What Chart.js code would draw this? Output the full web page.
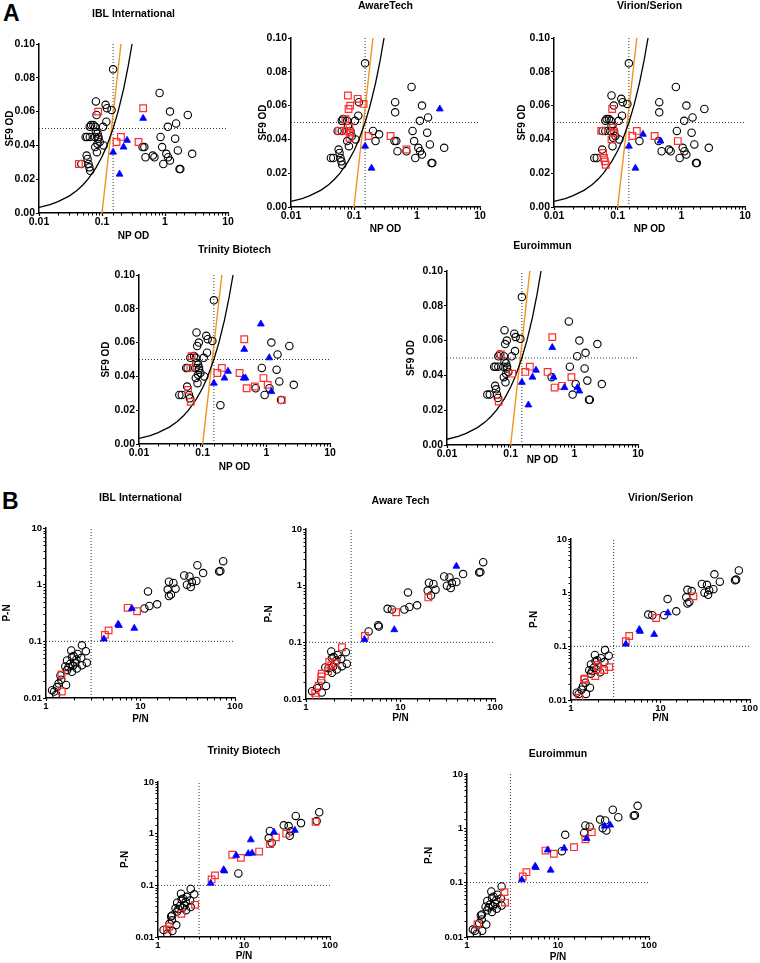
<!DOCTYPE html>
<html>
<head>
<meta charset="utf-8">
<script src="https://cdn.jsdelivr.net/npm/chart.js@4/dist/chart.umd.min.js"></script>
<style>
  html, body { margin: 0; padding: 0; background: #fff; }
  body { width: 760px; height: 963px; position: relative; overflow: hidden; }
  canvas { position: absolute; }
  .letter { position: absolute; font: bold 23px 'Liberation Sans', Arial, sans-serif; line-height: 1; color: #000; }
</style>
</head>
<body>
<div class="letter" style="left:3px;top:2px">A</div>
<div class="letter" style="left:2px;top:490px">B</div>
<script>
const kitsA = ['IBL International', 'AwareTech', 'Virion/Serion', 'Trinity Biotech', 'Euroimmun'];
const kitsB = ['IBL International', 'Aware Tech', 'Virion/Serion', 'Trinity Biotech', 'Euroimmun'];

// every serum, [NP OD, SF9 OD]
const odSamples = [
  [0.15, 0.085], [0.08, 0.066], [0.114, 0.064], [0.12, 0.062], [0.142, 0.061], [0.087, 0.060],
  [0.082, 0.058], [0.117, 0.054], [0.073, 0.052], [0.067, 0.052], [0.064, 0.051], [0.078, 0.051],
  [0.104, 0.051], [0.055, 0.045], [0.058, 0.045], [0.064, 0.045], [0.077, 0.045], [0.085, 0.047],
  [0.088, 0.045], [0.087, 0.044], [0.08, 0.048], [0.085, 0.041], [0.092, 0.042], [0.106, 0.040],
  [0.078, 0.039], [0.083, 0.036], [0.057, 0.034], [0.059, 0.032], [0.061, 0.029], [0.063, 0.027],
  [0.065, 0.025], [0.043, 0.029], [0.047, 0.029],
  [0.2, 0.045], [0.17, 0.042], [0.25, 0.043], [0.22, 0.039], [0.15, 0.036], [0.19, 0.023],
  [0.45, 0.062], [0.45, 0.056], [0.38, 0.042],
  [0.82, 0.071], [1.2, 0.060], [2.3, 0.058], [1.5, 0.053], [1.11, 0.051], [0.85, 0.045],
  [1.45, 0.044], [0.9, 0.039], [0.44, 0.039], [0.47, 0.039], [1.05, 0.035], [1.6, 0.037],
  [2.7, 0.035], [0.64, 0.034], [0.68, 0.033], [0.49, 0.033], [1.12, 0.033], [1.2, 0.031],
  [0.94, 0.029], [1.7, 0.026], [1.75, 0.026]
];

// same sera, [P/N, P-N]
const ratioSamples = [
  [75, 2.6], [40, 2.2], [29, 1.45], [33, 1.4], [46, 1.6], [68, 1.7], [70, 1.75], [20, 1.13],
  [22.3, 1.07], [23.5, 0.85], [19.4, 0.82], [21, 0.67], [20, 0.63], [31, 1.0], [34, 0.91],
  [35, 1.11], [39, 1.16], [12, 0.76], [11, 0.38], [12.4, 0.42], [15, 0.45],
  [7.3, 0.39], [9.2, 0.34], [4.2, 0.13], [4.6, 0.156], [8.1, 0.38], [5.8, 0.2], [5.9, 0.19],
  [8.6, 0.17], [4.1, 0.11],
  [2.4, 0.085], [1.85, 0.069], [2.64, 0.067], [2.16, 0.06], [1.96, 0.055], [2.36, 0.051],
  [2.1, 0.048], [1.88, 0.053], [1.67, 0.046], [2.04, 0.041], [2.7, 0.042], [1.8, 0.04],
  [2.4, 0.038], [1.93, 0.037], [1.73, 0.035], [2.12, 0.033], [1.88, 0.029], [1.67, 0.031],
  [1.6, 0.036], [1.42, 0.025], [1.63, 0.017], [1.36, 0.018], [1.31, 0.0156], [1.22, 0.013],
  [1.28, 0.0115], [1.16, 0.0137], [1.45, 0.021], [1.46, 0.026], [1.47, 0.013]
];

// sera each kit called differently (red squares / blue triangles), kit order as above
const odRed = [
  [[0.087, 0.060], [0.043, 0.029], [0.2, 0.045], [0.17, 0.042], [0.45, 0.062], [0.38, 0.042]],
  [[0.08, 0.066], [0.114, 0.064], [0.087, 0.060], [0.082, 0.058], [0.142, 0.061], [0.073, 0.052],
   [0.058, 0.045], [0.077, 0.045], [0.085, 0.047], [0.087, 0.044], [0.085, 0.041], [0.17, 0.042],
   [0.38, 0.042], [0.68, 0.034]],
  [[0.082, 0.058], [0.055, 0.045], [0.085, 0.047], [0.087, 0.044], [0.08, 0.040], [0.059, 0.032],
   [0.061, 0.029], [0.063, 0.027], [0.065, 0.025], [0.17, 0.042], [0.2, 0.045], [0.38, 0.042],
   [0.88, 0.039]],
  [[0.45, 0.062], [0.067, 0.052], [0.064, 0.045], [0.059, 0.032], [0.065, 0.025], [0.2, 0.045],
   [0.17, 0.042], [0.38, 0.042], [0.49, 0.033], [0.66, 0.034], [0.9, 0.039], [1.05, 0.035],
   [1.75, 0.026]],
  [[0.07, 0.052], [0.106, 0.041], [0.065, 0.025], [0.17, 0.042], [0.2, 0.045], [0.38, 0.042],
   [0.45, 0.062], [0.49, 0.033], [0.64, 0.034], [0.9, 0.039]]
];
const odBlue = [
  [[0.25, 0.043], [0.22, 0.039], [0.15, 0.036], [0.19, 0.023], [0.45, 0.056]],
  [[0.15, 0.036], [0.19, 0.023], [2.3, 0.058]],
  [[0.15, 0.036], [0.19, 0.023], [0.25, 0.043], [0.47, 0.039]],
  [[0.82, 0.071], [0.45, 0.056], [1.11, 0.051], [0.15, 0.036], [0.25, 0.043], [0.22, 0.039],
   [0.44, 0.039], [0.47, 0.039], [1.2, 0.031]],
  [[0.15, 0.036], [0.19, 0.023], [0.22, 0.039], [0.25, 0.043], [0.45, 0.056], [0.47, 0.039],
   [0.7, 0.033], [1.12, 0.033], [1.2, 0.031]]
];
const ratioRed = [
  [[7.3, 0.39], [9.2, 0.34], [4.2, 0.13], [4.6, 0.156], [1.46, 0.026], [1.47, 0.013]],
  [[1.25, 0.0128], [1.27, 0.011], [1.36, 0.0172], [1.45, 0.025], [1.47, 0.028], [1.76, 0.045],
   [1.71, 0.031], [1.85, 0.039], [2.04, 0.043], [2.4, 0.082], [4.2, 0.13], [9.0, 0.34], [19.7, 0.62]],
  [[1.24, 0.011], [1.4, 0.024], [1.42, 0.025], [1.87, 0.028], [2.0, 0.041], [1.97, 0.045],
   [2.35, 0.036], [2.68, 0.041], [4.1, 0.125], [4.47, 0.156], [8.95, 0.337], [23.3, 0.855]],
  [[1.27, 0.014], [1.35, 0.016], [1.87, 0.028], [2.7, 0.042], [4.2, 0.13], [4.6, 0.156], [7.3, 0.39],
   [9.2, 0.34], [15, 0.45], [20, 0.63], [23.5, 0.85], [31, 1.0], [68, 1.7]],
  [[1.3, 0.017], [2.58, 0.067], [2.62, 0.043], [4.1, 0.13], [4.5, 0.156], [7.3, 0.39], [9, 0.34],
   [15, 0.45], [20, 0.63], [23.5, 0.85]]
];
const ratioBlue = [
  [[8.1, 0.38], [5.8, 0.2], [5.9, 0.19], [8.6, 0.17], [4.1, 0.11]],
  [[4.16, 0.112], [8.6, 0.167], [39, 2.2]],
  [[4.1, 0.11], [5.8, 0.205], [5.9, 0.19], [8.5, 0.167], [12.1, 0.42]],
  [[4.1, 0.11], [5.8, 0.2], [5.9, 0.19], [8.1, 0.38], [12, 0.76], [11.2, 0.41], [12.4, 0.42],
   [22.3, 1.07], [39, 1.16]],
  [[4.0, 0.113], [5.6, 0.2], [5.7, 0.19], [7.7, 0.4], [8.3, 0.17], [11.7, 0.43], [20.6, 0.65],
   [32.5, 1.1], [37.5, 1.15]]
];

// cut-offs (dotted lines)
const npCut = 0.15, sf9Cut = 0.05;
const pnCut = 3, diffCut = 0.1;
// P/N = 3 curve and P-N = 0.1 line as drawn on the A panels
const ratioCurveNP = [0.01, 0.015, 0.02, 0.03, 0.04, 0.05, 0.06, 0.08, 0.1, 0.12, 0.15, 0.18, 0.22, 0.26, 0.3];
const ratioCurveSF9 = [0.0033, 0.005, 0.0067, 0.01, 0.0133, 0.0167, 0.02, 0.0267, 0.0333, 0.04, 0.05, 0.06, 0.0733, 0.0867, 0.1];
const diffLineNP = [0.1, 0.2];
const diffLineSF9 = [0, 0.1];

// plot boxes on the page
const boxesA = [
  {L: 39, T: 44, R: 228, B: 213, gap: 30, yGap: 29, xGap: 23},
  {L: 291, T: 38, R: 480, B: 207, gap: 32, yGap: 28, xGap: 22},
  {L: 554, T: 38, R: 745, B: 207, gap: 32, yGap: 32, xGap: 22},
  {L: 139, T: 275, R: 330, B: 444, gap: 25, yGap: 33, xGap: 23},
  {L: 447, T: 271, R: 638, B: 445, gap: 25, yGap: 36, xGap: 15}
];
const boxesB = [
  {L: 46, T: 528, R: 235, B: 698, gap: 30, yGap: 39, xGap: 21},
  {L: 306, T: 529, R: 495, B: 699, gap: 28, yGap: 37, xGap: 19},
  {L: 571, T: 539, R: 750, B: 700, gap: 41, yGap: 37, xGap: 18},
  {L: 158, T: 782, R: 330, B: 937, gap: 31, yGap: 33, xGap: 19},
  {L: 467, T: 774, R: 649, B: 937, gap: 20, yGap: 38, xGap: 20}
];

const FONT = "'Liberation Sans', Arial, Helvetica, sans-serif";
const RED = '#ff2e2e', BLUE = '#0000ff', ORANGE = '#f7921e';
const Y_W = 45, X_H = 30, PAD_R = 16;

const toXY = list => list.map(p => ({x: p[0], y: p[1]}));
const zipXY = (xs, ys) => xs.map((x, i) => ({x: x, y: ys[i]}));

function powLabel(v) {
  const e = Math.log10(v);
  const r = Math.round(e);
  if (Math.abs(e - r) > 1e-6) return '';
  return r < 0 ? Math.pow(10, r).toFixed(-r) : String(Math.pow(10, r));
}

// circles = sera not drawn as square/triangle in this kit
function keepUnmarked(base, marked, sc) {
  const left = base.slice();
  const nx = v => sc.xLog ? Math.log10(v) / sc.xr : v / sc.xr;
  const ny = v => sc.yLog ? Math.log10(v) / sc.yr : v / sc.yr;
  marked.forEach(m => {
    let best = -1, bestD = 0.03;
    left.forEach((p, i) => {
      const d = Math.hypot(nx(p[0]) - nx(m[0]), ny(p[1]) - ny(m[1]));
      if (d < bestD) { bestD = d; best = i; }
    });
    if (best >= 0) left.splice(best, 1);
  });
  return left;
}

const minorTicks = {
  id: 'minorTicks',
  afterDraw(chart) {
    const ctx = chart.ctx, area = chart.chartArea;
    ctx.save();
    ctx.strokeStyle = '#000';
    ctx.lineWidth = 1;
    Object.values(chart.scales).forEach(s => {
      if (s.type !== 'logarithmic') return;
      s.ticks.forEach(t => {
        if (powLabel(t.value) !== '') return;
        const p = Math.round(s.getPixelForValue(t.value)) + 0.5;
        ctx.beginPath();
        if (s.isHorizontal()) { ctx.moveTo(p, area.bottom); ctx.lineTo(p, area.bottom + 2.5); }
        else { ctx.moveTo(area.left - 2.5, p); ctx.lineTo(area.left, p); }
        ctx.stroke();
      });
    });
    ctx.restore();
  }
};

function axis(cfg, box, horizontal) {
  const log = cfg.type === 'logarithmic';
  const a = {
    type: cfg.type, min: cfg.min, max: cfg.max,
    border: {display: true, color: '#000', width: 1.5},
    grid: {
      display: true, drawOnChartArea: false, drawTicks: true, tickLength: 3, tickWidth: 1.2,
      tickColor: c => (!log || (c.tick && powLabel(c.tick.value) !== '')) ? '#000' : 'rgba(0,0,0,0)'
    },
    ticks: {
      autoSkip: false, maxRotation: 0, minRotation: 0, color: '#000',
      padding: horizontal ? cfg.labelPad : 1,
      font: {family: FONT, size: cfg.tickSize, weight: 'bold', lineHeight: 1},
      callback: log ? (v => powLabel(v)) : (v => v.toFixed(2))
    },
    title: {
      display: true, text: cfg.title, color: '#000',
      font: {family: FONT, size: 10, weight: 'bold', lineHeight: 1.2},
      padding: horizontal ? {top: 0, bottom: X_H - box.xGap - 6} : {top: Y_W - box.yGap - 6, bottom: 0}
    }
  };
  if (!log) a.ticks.stepSize = cfg.step;
  a.afterFit = horizontal
    ? (s => { s.height = X_H; s.paddingLeft = 0; s.paddingRight = 0; })
    : (s => { s.width = Y_W; s.paddingTop = 0; s.paddingBottom = 0; });
  return a;
}

function drawPanel(box, p) {
  const lh = p.titleSize * 1.2;
  const titleH = Math.round(2 + lh / 2 + box.gap);
  const padTop = titleH - box.gap - lh / 2;
  const w = box.R - box.L + Y_W + PAD_R;
  const h = box.B - box.T + titleH + X_H;
  const canvas = document.createElement('canvas');
  canvas.width = w; canvas.height = h;
  canvas.style.left = (box.L - Y_W) + 'px';
  canvas.style.top = (box.T - titleH) + 'px';
  canvas.style.width = w + 'px';
  canvas.style.height = h + 'px';
  document.body.appendChild(canvas);

  const circles = keepUnmarked(p.base, p.red.concat(p.blue), p.norm);
  const lines = p.lines.map(l => ({
    data: l.data, showLine: true, pointRadius: 0, borderColor: l.color, borderWidth: l.width,
    borderDash: l.dash || [], order: l.order
  }));

  new Chart(canvas, {
    type: 'scatter',
    data: {
      datasets: [
        {data: toXY(p.blue), pointStyle: 'triangle', pointRadius: 4, backgroundColor: BLUE,
         borderColor: BLUE, borderWidth: 0.8, order: 0},
        {data: toXY(p.red), pointStyle: 'rect', pointRadius: 4.7, backgroundColor: 'rgba(0,0,0,0)',
         borderColor: RED, borderWidth: 1.2, order: 1},
        {data: toXY(circles), pointStyle: 'circle', pointRadius: 3.7, backgroundColor: 'rgba(0,0,0,0)',
         borderColor: '#000', borderWidth: 1.1, order: 2}
      ].concat(lines)
    },
    options: {
      responsive: false, animation: false, devicePixelRatio: 1, events: [],
      layout: {padding: {left: 0, right: PAD_R, top: 0, bottom: 0}},
      plugins: {
        legend: {display: false}, tooltip: {enabled: false},
        title: {
          display: true, text: p.title, position: 'top', fullSize: false, color: '#000',
          font: {family: FONT, size: p.titleSize, weight: 'bold', lineHeight: 1.2},
          padding: {top: padTop, bottom: box.gap - lh / 2}
        }
      },
      scales: {
        x: axis(p.x, box, true),
        y: axis(p.y, box, false)
      }
    },
    plugins: [minorTicks]
  });
}

const dotted = [1, 2];

kitsA.forEach((name, k) => {
  drawPanel(boxesA[k], {
    title: name, titleSize: 10.5,
    base: odSamples, red: odRed[k], blue: odBlue[k],
    norm: {xLog: true, xr: 3, yLog: false, yr: 0.1},
    x: {type: 'logarithmic', min: 0.01, max: 10, title: 'NP OD', tickSize: 10.5, labelPad: 1},
    y: {type: 'linear', min: 0, max: 0.1, step: 0.02, title: 'SF9 OD', tickSize: 10.5},
    lines: [
      {data: zipXY(ratioCurveNP, ratioCurveSF9), color: '#000', width: 1.3, order: 3},
      {data: zipXY(diffLineNP, diffLineSF9), color: ORANGE, width: 1.4, order: 3},
      {data: [{x: npCut, y: 0}, {x: npCut, y: 0.1}], color: '#333', width: 1, dash: dotted, order: 4},
      {data: [{x: 0.01, y: sf9Cut}, {x: 10, y: sf9Cut}], color: '#333', width: 1, dash: dotted, order: 4}
    ]
  });
});

kitsB.forEach((name, k) => {
  drawPanel(boxesB[k], {
    title: name, titleSize: 10.5,
    base: ratioSamples, red: ratioRed[k], blue: ratioBlue[k],
    norm: {xLog: true, xr: 2, yLog: true, yr: 3},
    x: {type: 'logarithmic', min: 1, max: 100, title: 'P/N', tickSize: 9.5, labelPad: 0.5},
    y: {type: 'logarithmic', min: 0.01, max: 10, title: 'P-N', tickSize: 9.5},
    lines: [
      {data: [{x: pnCut, y: 0.01}, {x: pnCut, y: 10}], color: '#333', width: 1, dash: dotted, order: 4},
      {data: [{x: 1, y: diffCut}, {x: 100, y: diffCut}], color: '#333', width: 1, dash: dotted, order: 4}
    ]
  });
});
</script>
</body>
</html>
